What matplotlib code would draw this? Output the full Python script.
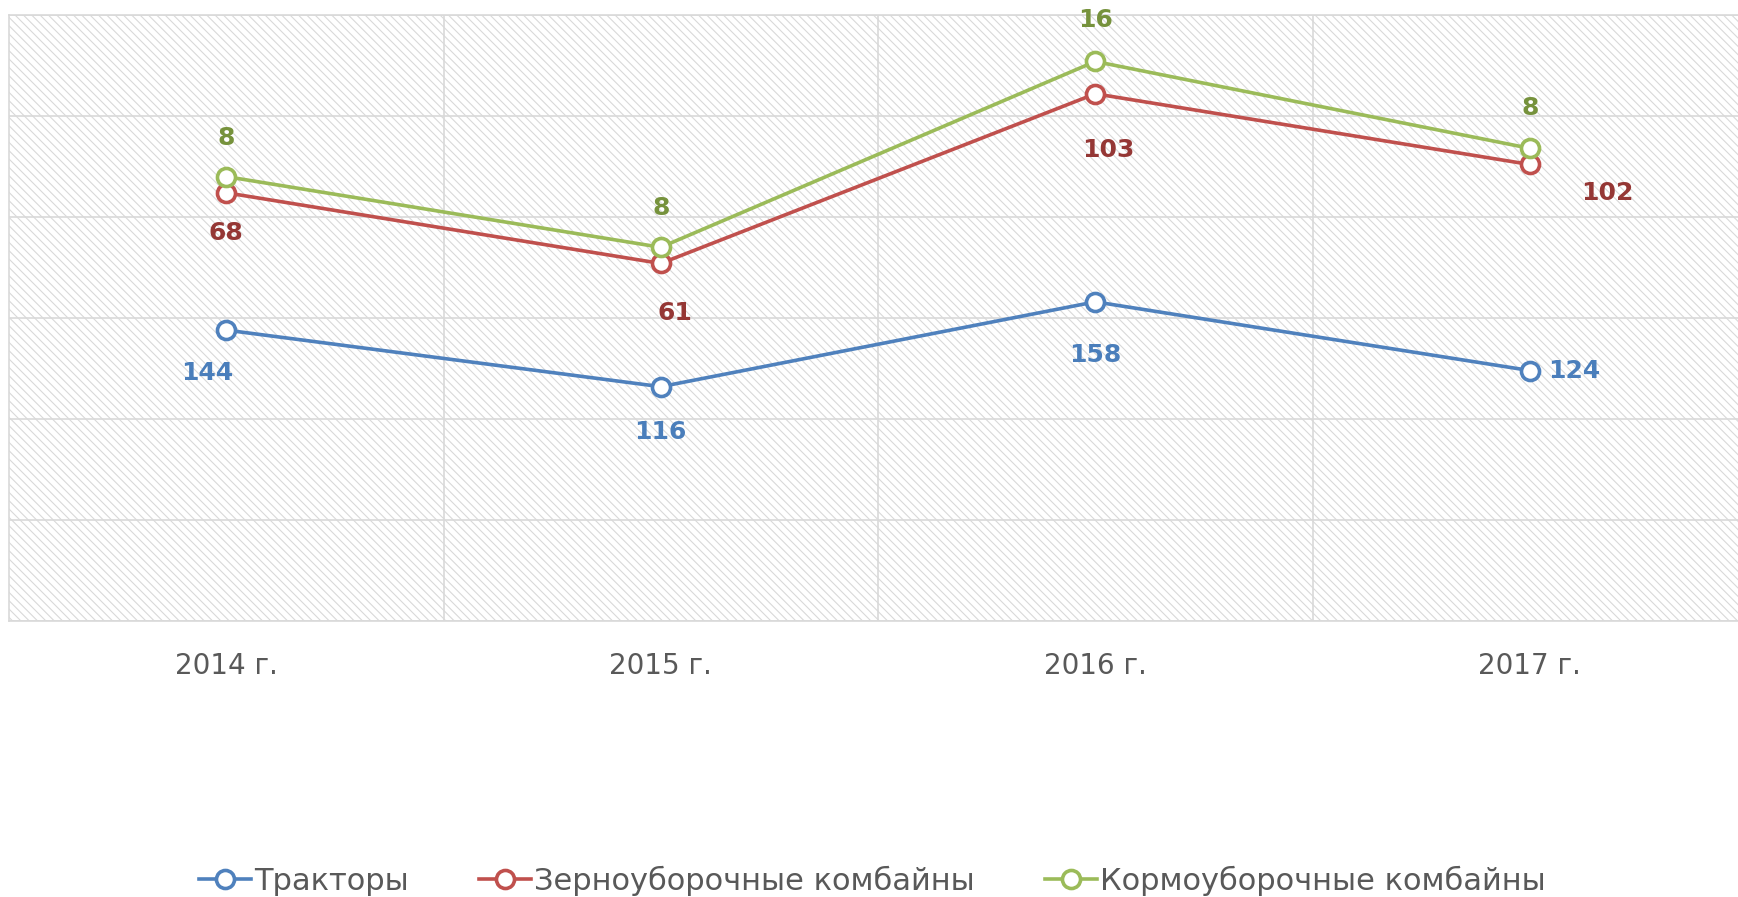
import matplotlib.pyplot as plt
import numpy as np

plt.rcParams['font.family'] = ['DejaVu Sans']
plt.rcParams['hatch.color'] = '#d9d9d9'
plt.rcParams['hatch.linewidth'] = 0.8

years = ["2014 г.", "2015 г.", "2016 г.", "2017 г."]
tractors = [144, 116, 158, 124]
grain_combines = [68, 61, 103, 102]
forage_combines = [8, 8, 16, 8]

series_names = ["Тракторы", "Зерноуборочные комбайны", "Кормоуборочные комбайны"]
line_colors = ["#4F81BD", "#C0504D", "#9BBB59"]
label_colors = ["#4A7EBB", "#953735", "#76923C"]

# label offsets in pixels (dx, dy) for each series / point
label_offsets = [
    [(-19, -43), (0, -45), (0, -53), (44, 0)],
    [(0, -40), (14, -50), (13, -56), (78, -29)],
    [(0, 39), (0, 39), (0, 41), (0, 40)],
]

# stacked line chart
stacked = np.cumsum([tractors, grain_combines, forage_combines], axis=0)
raw = [tractors, grain_combines, forage_combines]

fig = plt.figure(figsize=(17.38, 8.97), dpi=100)
ax = fig.add_axes([9 / 1738, 276 / 897, 1738 / 1738, 606 / 897])

x = np.arange(len(years))
ax.set_xlim(-0.5, len(years) - 0.5)
ax.set_ylim(0, 300)

# hatched background
ax.add_patch(plt.Rectangle((0, 0), 1, 1, transform=ax.transAxes,
                           facecolor='white', edgecolor='#d9d9d9',
                           hatch='\\' * 4, lw=0, zorder=0))

ax.set_yticks(np.arange(0, 301, 50))
ax.set_yticklabels([])
ax.tick_params(axis='y', length=0)
ax.set_xticks(x)
ax.set_xticklabels(years, fontsize=20, color='#595959')
ax.tick_params(axis='x', length=0, pad=22)
ax.set_xticks(x[:-1] + 0.5, minor=True)
ax.tick_params(axis='x', which='minor', length=0)
ax.grid(True, axis='y', color='#d9d9d9', lw=1.2, zorder=1)
ax.grid(True, axis='x', which='minor', color='#d9d9d9', lw=1.2, zorder=1)
ax.grid(False, axis='x', which='major')
for s in ax.spines.values():
    s.set_color('#d9d9d9')
    s.set_linewidth(1.2)

for i in range(3):
    ax.plot(x, stacked[i], color=line_colors[i], lw=2.6, marker='o',
            markersize=13, markerfacecolor='white', markeredgewidth=2.6,
            markeredgecolor=line_colors[i], label=series_names[i], zorder=3)
    for j in range(len(years)):
        dx, dy = label_offsets[i][j]
        ax.annotate(str(raw[i][j]), (x[j], stacked[i][j]), xytext=(dx, dy),
                    textcoords='offset pixels', ha='center', va='center',
                    fontsize=18, fontweight='bold', color=label_colors[i],
                    zorder=4)

leg = fig.legend(loc='center', bbox_to_anchor=(0.502, 1 - 881 / 897), ncol=3,
                 frameon=False, fontsize=22, handlelength=1.7,
                 columnspacing=2.3, handletextpad=0.1)
for t in leg.get_texts():
    t.set_color('#595959')

fig.savefig('out.png', dpi=100)
